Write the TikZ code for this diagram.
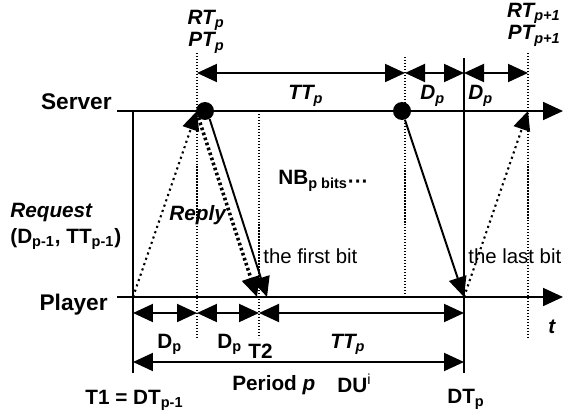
\documentclass[tikz,border=0pt]{standalone}
\usepackage{fontspec}
\setmainfont{Liberation Sans}
\usetikzlibrary{arrows.meta, positioning}

\begin{document}
\begin{tikzpicture}[
            x=0.02cm, y=-0.02cm,
            lbl/.style={inner sep=0pt, font=\fontsize{11.8}{13}\selectfont\bfseries},
            ilbl/.style={inner sep=0pt, font=\fontsize{11.8}{13}\selectfont\bfseries\itshape},
            big/.style={inner sep=0pt, font=\fontsize{12.9}{14}\selectfont\bfseries},
            plain/.style={inner sep=0pt, font=\fontsize{11.6}{13}\selectfont},
            axis/.style={-{Triangle[length=0.4cm, width=0.36cm]}, line width=1pt},
            dim/.style={{Triangle[length=0.4cm, width=0.36cm]}-{Triangle[length=0.4cm, width=0.36cm]}, line width=1.1pt},
            guide/.style={densely dotted, line width=0.7pt},
            bound/.style={line width=1.1pt},
            dot/.style={circle, fill, inner sep=0pt, minimum size=0.36cm},
            req/.style={-{Triangle[length=0.38cm, width=0.34cm]}, dotted, line width=1.2pt},
            reply/.style={-{Triangle[length=0.4cm, width=0.36cm]}, line width=2pt, dash pattern=on 1.5pt off 1.5pt},
            bit/.style={-{Triangle[length=0.4cm, width=0.36cm]}, line width=1.1pt}
        ]
            \useasboundingbox (0,0) rectangle (564,415);

            \coordinate (srv0) at (117,111);
            \coordinate (srv1) at (563,111);
            \coordinate (ply0) at (117,297);
            \coordinate (ply1) at (563,297);
            \coordinate (t1a) at (133,111);
            \coordinate (t1b) at (133,373);
            \coordinate (rta) at (197,53);
            \coordinate (rtb) at (197,338);
            \coordinate (t2a) at (259,111);
            \coordinate (t2b) at (259,338);
            \coordinate (tta) at (405,57);
            \coordinate (ttb) at (405,297);
            \coordinate (dta) at (464,58);
            \coordinate (dtb) at (464,373);
            \coordinate (nxa) at (528,53);
            \coordinate (nxb) at (528,338);
            \coordinate (toprow) at (0,73);
            \coordinate (durrow) at (0,313);
            \coordinate (perrow) at (0,362);
            \coordinate (replyend) at (257,297);
            \coordinate (firstbit) at (267,297);

            \draw[guide] (rta) -- (rtb);
            \draw[guide] (t2a) -- (t2b);
            \draw[guide] (tta) -- (ttb);
            \draw[guide] (nxa) -- (nxb);
            \draw[bound] (t1a) -- (t1b);
            \draw[bound] (dta) -- (dtb);

            \draw[axis] (srv0) -- (srv1);
            \draw[axis] (ply0) -- (ply1);

            \draw[dim] (rta |- toprow) -- (tta |- toprow);
            \draw[dim] (tta |- toprow) -- (dta |- toprow);
            \draw[dim] (dta |- toprow) -- (nxa |- toprow);
            \draw[dim] (t1a |- durrow) -- (rta |- durrow);
            \draw[dim] (rta |- durrow) -- (t2a |- durrow);
            \draw[dim] (t2a |- durrow) -- (dta |- durrow);
            \draw[dim] (t1a |- perrow) -- (dta |- perrow);

            \node[dot] (pkt) at (205,111) {};
            \node[dot] (lastpkt) at (402,111) {};

            \draw[req] (t1a |- ply0) -- (rta |- srv0);
            \draw[reply] (pkt.south west) -- (replyend);
            \draw[bit] (pkt.-60) -- (firstbit);
            \draw[bit] (lastpkt) -- (dta |- ply0);
            \draw[req] (dta |- ply0) -- (nxa |- srv0);

            \node[big, anchor=base east] (server) at (112,110) {Server};
            \node[big, anchor=base east] (player) at (108,310) {Player};

            \node[ilbl, anchor=base east] (ptp) at (225,47) {PT\textsubscript{p}};
            \node[ilbl, above=1pt of ptp.north east, anchor=south east] (rtp) {RT\textsubscript{p}};
            \node[ilbl, anchor=base east] (ptnext) at (561,40) {PT\textsubscript{p+1}};
            \node[ilbl, above=1pt of ptnext.north east, anchor=south east] (rtnext) {RT\textsubscript{p+1}};

            \node[ilbl, anchor=base west] (ttop) at (288,100) {TT\textsubscript{p}};
            \node[ilbl, anchor=base west] (dtop1) at (420,100) {D\textsubscript{p}};
            \node[ilbl, anchor=base west] (dtop2) at (468,100) {D\textsubscript{p}};

            \node[lbl, anchor=base west] (nbits) at (278,185) {NB\textsubscript{p bits}\raisebox{-0.15em}{···}};
            \node[ilbl, anchor=base west] (request) at (10,217) {Request};
            \node[lbl, anchor=base west] (reqargs) at (10,243) {(D\textsubscript{p-1}, TT\textsubscript{p-1})};
            \node[ilbl, anchor=base west] (replylbl) at (169,220) {Reply};
            \node[plain, anchor=base west] (firstlbl) at (263,263) {the first bit};
            \node[plain, anchor=base west] (lastlbl) at (468,263) {the last bit};

            \node[lbl, anchor=base west] (dbot1) at (157,348) {D\textsubscript{p}};
            \node[lbl, anchor=base west] (dbot2) at (217,348) {D\textsubscript{p}};
            \node[lbl, anchor=base west] (ttwo) at (248,358) {T2};
            \node[ilbl, anchor=base west] (ttbot) at (330,348) {TT\textsubscript{p}};
            \node[ilbl, anchor=base west] (tlbl) at (548,333) {t};

            \node[lbl, anchor=base west] (period) at (232,390) {Period \textit{p}};
            \node[lbl, anchor=base west] (dui) at (337,392) {DU\textsuperscript{\mdseries i}};
            \node[lbl, anchor=base west] (dtp) at (447,403) {DT\textsubscript{p}};
            \node[lbl, anchor=base west] (tone) at (85,404) {T1 = DT\textsubscript{p-1}};
        \end{tikzpicture}
\end{document}
